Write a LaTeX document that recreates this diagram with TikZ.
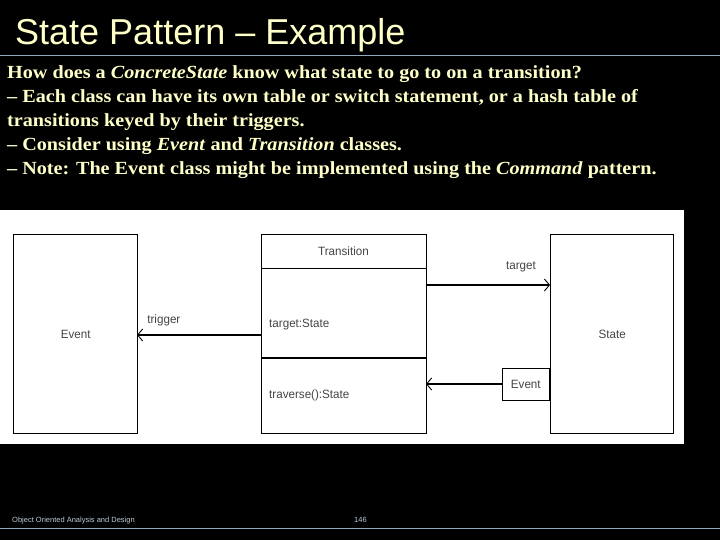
\documentclass[tikz,border=0pt]{standalone}
\usepackage{fontspec}
\setmainfont{Liberation Serif}
\newfontfamily\titlefont{Liberation Sans}
\newfontfamily\bodyfont[FakeStretch=1.09]{Liberation Serif}
\newfontfamily\umlfont[FakeStretch=0.97]{Liberation Sans}
\definecolor{slideyellow}{HTML}{FFFFC8}
\definecolor{rulecol}{HTML}{8FA9BE}
\definecolor{umlgray}{HTML}{454545}
\tikzset{
    umlbox/.style={draw, line width=1.4pt, minimum width=124pt, minimum height=199pt, anchor=north west, inner sep=0pt},
    umltext/.style={font=\umlfont\fontsize{12}{14}\selectfont, text=umlgray, inner sep=1pt},
    bodyline/.style={anchor=base west, font=\bodyfont\bfseries\fontsize{18.5}{20}\selectfont, text=slideyellow, inner sep=0pt},
    assoc/.style={line width=1.4pt, -{Straight Barb[length=5pt, width=12pt, line width=0.9pt]}}
}
\usetikzlibrary{arrows.meta}
\begin{document}
\begin{tikzpicture}[x=1pt, y=-1pt]
\fill[black] (0,0) rectangle (720,540);
\useasboundingbox (0,0) rectangle (720,540);

% Title and rules
\node[anchor=base west, inner sep=0pt, font=\titlefont\fontsize{36}{40}\selectfont, text=slideyellow] (title) at (15,45) {State Pattern – Example};
\draw[rulecol, line width=0.8pt] (0,55) -- (720,55);
\draw[rulecol, line width=0.8pt] (0,528) -- (720,528);

% Body text
\node[bodyline] (l1) at (7,78.5) {How does a \textit{ConcreteState} know what state to go to on a transition?};
\node[bodyline] (l2) at (7,102.5) {– Each class can have its own table or switch statement, or a hash table of};
\node[bodyline] (l3) at (7,126.5) {transitions keyed by their triggers.};
\node[bodyline] (l4) at (7,150.5) {– Consider using \textit{Event} and \textit{Transition} classes.};
\node[bodyline] (l5) at (7,174.5) {– Note: The Event class might be implemented using the \textit{Command} pattern.};

% Diagram area
\fill[white] (0,210) rectangle (684,444);

% Classes
\node[umlbox] (event) at (13,234) {};
\node[umltext] at (event.center) {Event};
\node[umlbox, minimum width=165pt] (transition) at (261,234) {};
\draw[line width=0.8pt] (261,268) -- (426,268);
\draw[line width=1.4pt] (261,358) -- (426,358);
\node[umltext] (trname) at (343.5,251) {Transition};
\node[umltext, anchor=west] (trattr) at (268,325) {target:State};
\node[umltext, anchor=west] (trop) at (268,395) {traverse():State};
\node[umlbox, minimum width=123pt] (state) at (550,234) {};
\node[umltext] at (state.center) {State};
\node[draw, line width=1.4pt, minimum width=47pt, minimum height=32pt, anchor=north east, inner sep=0pt] (qual) at (550,368) {};
\node[umltext] at (qual.center) {Event};

% Associations
\coordinate (trL) at (261,335);
\coordinate (evR) at (137,335);
\coordinate (trR1) at (426,285);
\coordinate (stL) at (550,285);
\coordinate (trR2) at (426,384);
\draw[assoc] (trL) -- (evR) node[umltext, anchor=south west, pos=0.93, yshift=7pt] {trigger};
\draw[assoc] (trR1) -- (stL) node[umltext, anchor=south east, pos=0.9, yshift=11pt] {target};
\draw[assoc] (qual.west |- trR2) -- (trR2);

% Footer
\node[anchor=base west, inner sep=0pt, font=\titlefont\fontsize{7.5}{9}\selectfont, text=rulecol!60!white] (footer) at (12,522) {Object Oriented Analysis and Design};
\node[anchor=base west, inner sep=0pt, font=\titlefont\fontsize{7.5}{9}\selectfont, text=rulecol!60!white] (page) at (354,522) {146};
\end{tikzpicture}
\end{document}
